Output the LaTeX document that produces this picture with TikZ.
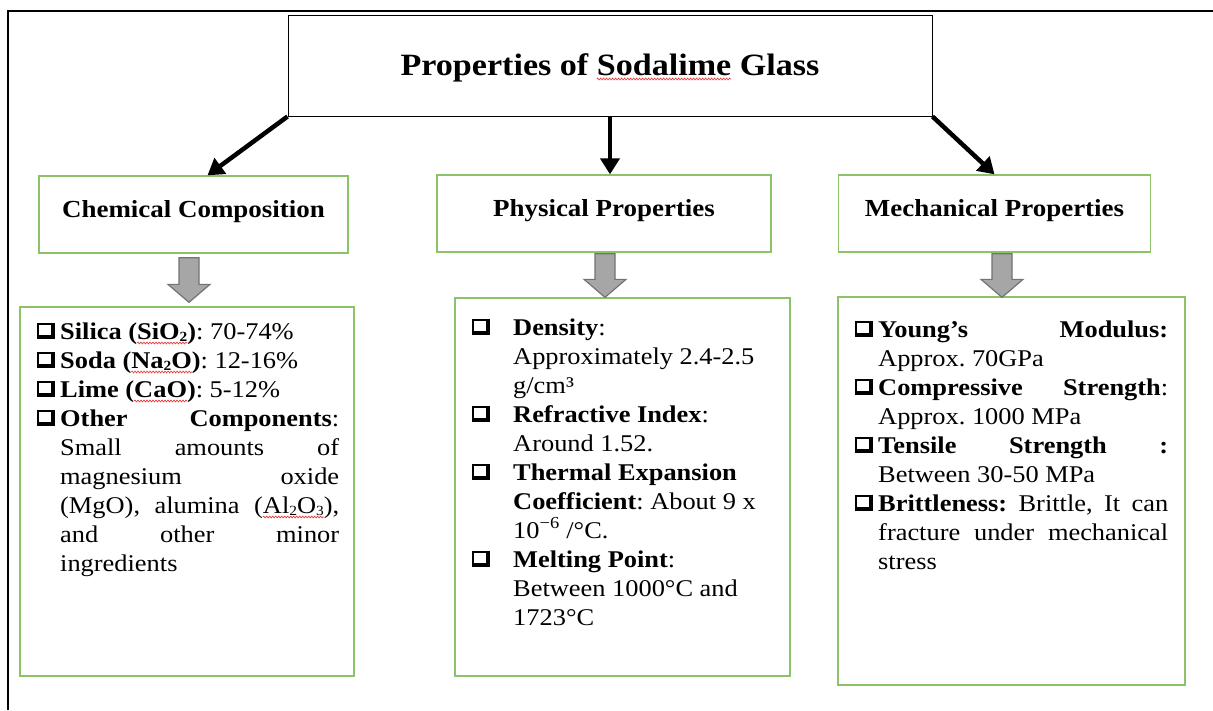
\documentclass[tikz,border=0pt]{standalone}
\usepackage{fontspec}
\setmainfont{Liberation Serif}[FakeStretch=1.1]
\usetikzlibrary{arrows.meta,calc,decorations.pathmorphing}
\definecolor{boxgreen}{RGB}{140,194,105}
\definecolor{arrfill}{RGB}{166,166,166}
\definecolor{arrdraw}{RGB}{115,115,115}
\definecolor{spellred}{RGB}{230,60,60}
\newsavebox\spellbox
\newcommand\spell[1]{\sbox\spellbox{#1}\makebox[0pt][l]{\tikz[overlay,x=1pt,y=1pt]\draw[spellred,line width=0.7pt] decorate[decoration={zigzag,segment length=3pt,amplitude=0.9pt}] {(0,-4) -- (\the\wd\spellbox,-4)};}\usebox\spellbox}
\newcommand\cbx{\hbox{\vrule width1.8pt height16pt depth0pt\vbox to 16pt{\hrule height1.8pt width12pt\vfil\hrule height3.8pt width12pt}\vrule width3.8pt height16pt depth0pt}}
\newcommand\bul[1]{\noindent\leftskip=#1\relax\hskip-#1\relax\makebox[#1][l]{\cbx}\ignorespaces}
\newcommand\sub[1]{\raisebox{-2pt}{\fontsize{14}{14}\selectfont #1}}
\newcommand\grayarr[2]{\draw[grayarrow] ($(#1)+(-10,0)$) -- ($(#2)+(-10,-18)$) -- ($(#2)+(-21,-18)$) -- (#2) -- ($(#2)+(21,-18)$) -- ($(#2)+(10,-18)$) -- ($(#1)+(10,0)$) -- cycle;}
\begin{document}
\begin{tikzpicture}[x=1pt,y=-1pt,
  titlebox/.style={draw=black, line width=1pt, minimum width=644pt, minimum height=101pt, inner sep=0pt, font=\fontsize{31}{36}\selectfont\bfseries, text height=24pt, text depth=5pt},
  headbox/.style={draw=boxgreen, line width=1.3pt, inner sep=0pt, font=\fontsize{24.5}{29}\selectfont\bfseries, text height=11pt, text depth=6pt, minimum height=77pt},
  contentbox/.style={draw=boxgreen, line width=1.3pt, inner sep=0pt},
  bodytext/.style={inner sep=0pt, anchor=base west, font=\fontsize{24}{29}\selectfont\frenchspacing},
  blackarrow/.style={line width=4.5pt, -{Triangle[length=16pt,width=19pt]}},
  grayarrow/.style={fill=arrfill, draw=arrdraw, line width=1.2pt, line join=miter}
]
\useasboundingbox (0,0) rectangle (1213,710);
\draw[line width=1.5pt] (8,710) -- (8,11) -- (1213,11);

\node[titlebox] (top) at (610,65.5) {Properties of \spell{Sodalime} Glass};

\node[headbox, minimum width=309pt] (chem) at (193.5,214.5) {Chemical Composition};
\node[headbox, minimum width=334pt] (phys) at (604,213.5) {Physical Properties};
\node[headbox, minimum width=312pt] (mech) at (994.5,213.5) {Mechanical Properties};

\node[contentbox, minimum width=334pt, minimum height=369pt] (chemc) at (187,491.5) {};
\node[contentbox, minimum width=335pt, minimum height=378pt] (physc) at (622.5,487) {};
\node[contentbox, minimum width=347pt, minimum height=388pt] (mechc) at (1011.5,491) {};

\draw[blackarrow] (top.south west) -- ([xshift=14pt]chem.north);
\draw[blackarrow] (top.south) -- (top.south |- phys.north);
\draw[blackarrow] (top.south east) -- (mech.north);

\coordinate (g1s) at ($(chem.south)+(-4.5,4)$);
\coordinate (g1e) at ($(chemc.north)+(2,-4)$);
\coordinate (g2s) at ($(phys.south)+(1,1)$);
\coordinate (g2e) at ($(physc.north)+(-17.5,0)$);
\coordinate (g3s) at ($(mech.south)+(7.5,1)$);
\coordinate (g3e) at ($(mechc.north)+(-9.5,1)$);
\grayarr{g1s}{g1e}
\grayarr{g2s}{g2e}
\grayarr{g3s}{g3e}

\node[bodytext] (chemt) at (37,339) {\parbox[t]{302pt}{%
\bul{23pt}\textbf{Silica (\spell{SiO\sub{2}})}: 70-74\%\par
\bul{23pt}\textbf{Soda (\spell{Na\sub{2}O})}: 12-16\%\par
\bul{23pt}\textbf{Lime (\spell{CaO})}: 5-12\%\par
\bul{23pt}\textbf{Other Components}:\linebreak Small amounts of\linebreak magnesium oxide\linebreak (MgO), alumina (\spell{Al\sub{2}O\sub{3}}),\linebreak and other minor\linebreak ingredients\par}};

\node[bodytext] (physt) at (472,335) {\parbox[t]{300pt}{\raggedright
\bul{41pt}\textbf{Density}:\\ Approximately 2.4-2.5\\ g/cm³\par
\bul{41pt}\textbf{Refractive Index}:\\ Around 1.52.\par
\bul{41pt}\textbf{Thermal Expansion}\\ \textbf{Coefficient}: About 9 x\\ 10\textsuperscript{−6} /°C.\par
\bul{41pt}\textbf{Melting Point}:\\ Between 1000°C and\\ 1723°C\par}};

\node[bodytext] (mecht) at (855,337) {\parbox[t]{313pt}{%
\bul{23pt}\textbf{Young’s Modulus:}\linebreak Approx. 70GPa\par
\bul{23pt}\textbf{Compressive Strength}:\linebreak Approx. 1000 MPa\par
\bul{23pt}\textbf{Tensile Strength :}\linebreak Between 30-50 MPa\par
\bul{23pt}\textbf{Brittleness:} Brittle, It can\linebreak fracture under mechanical\linebreak stress\par}};
\end{tikzpicture}
\end{document}
